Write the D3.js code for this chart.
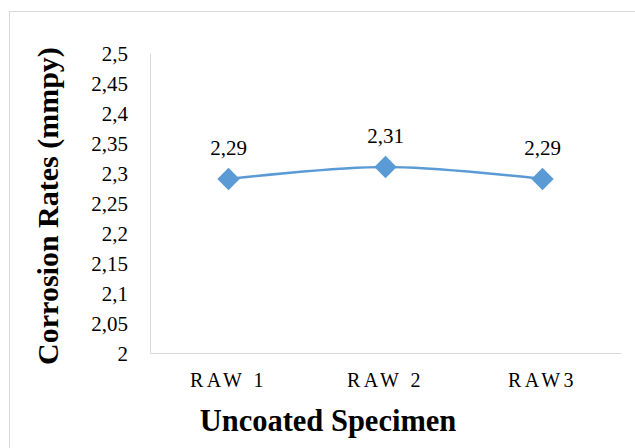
<!DOCTYPE html>
<html>
<head>
<meta charset="utf-8">
<script src="https://cdn.jsdelivr.net/npm/d3@7"></script>
<style>
  body { margin: 0; background: #fff; }
  svg text { font-family: "Liberation Serif", "Times New Roman", serif; fill: #000; }
</style>
</head>
<body>
<div id="chart"></div>
<script>
    const categories = ["RAW 1", "RAW 2", "RAW3"];
    const rates = [2.29, 2.31, 2.29];
    const yTicks = [2, 2.05, 2.1, 2.15, 2.2, 2.25, 2.3, 2.35, 2.4, 2.45, 2.5];

    let width = 635,
        height = 448;
    let plot = {left: 150, right: 621, top: 53, bottom: 353};
    const serif = '"Liberation Serif", "Times New Roman", serif';

    let svg = d3.select("#chart").append("svg")
        .attr("width", width)
        .attr("height", height);

    // outer chart frame (only top and left edges show in the picture)
    svg.append("rect")
        .attr("x", 9.5)
        .attr("y", 11.5)
        .attr("width", 700)
        .attr("height", 500)
        .attr("fill", "none")
        .attr("stroke", "#d9d9d9");

    // Scales
    let x = d3.scaleBand()
        .domain(categories)
        .range([plot.left, plot.right]);
    let y = d3.scaleLinear()
        .domain([2, 2.5])
        .range([plot.bottom, plot.top]);

    const fmt = d => String(d).replace(".", ",");

    // y axis
    let yAxis = svg.append("g")
        .attr("transform", `translate(${plot.left},0)`)
        .call(d3.axisLeft(y).tickValues(yTicks).tickSize(0).tickPadding(22).tickFormat(fmt));
    yAxis.select(".domain").attr("stroke", "#d9d9d9");
    yAxis.selectAll("text")
        .style("font-family", serif)
        .style("font-size", "21px")
        .attr("dy", "0.35em");

    // x axis
    let xAxis = svg.append("g")
        .attr("transform", `translate(0,${plot.bottom})`)
        .call(d3.axisBottom(x).tickSize(0).tickPadding(20));
    xAxis.select(".domain").attr("stroke", "#d9d9d9");
    xAxis.selectAll("text")
        .style("font-family", serif)
        .style("font-size", "20px")
        .style("letter-spacing", "3.5px");

    // axis titles
    svg.append("text")
        .attr("transform", "translate(58,206) rotate(-90)")
        .attr("text-anchor", "middle")
        .style("font-size", "30px")
        .style("font-weight", "bold")
        .text("Corrosion Rates (mmpy)");

    svg.append("text")
        .attr("x", 328)
        .attr("y", 431)
        .attr("text-anchor", "middle")
        .style("font-size", "30.5px")
        .style("font-weight", "bold")
        .text("Uncoated Specimen");

    // smoothed series line
    let line = d3.line()
        .x((d, i) => x(categories[i]) + x.bandwidth() / 2)
        .y(d => y(d))
        .curve(d3.curveCatmullRom);

    svg.append("path")
        .datum(rates)
        .attr("d", line)
        .attr("fill", "none")
        .attr("stroke", "#5b9bd5")
        .attr("stroke-width", 2.5);

    let diamond = d3.symbol().type(d3.symbolSquare).size(250);

    svg.append("g").selectAll("path")
        .data(rates)
        .enter().append("path")
        .attr("d", diamond)
        .attr("transform", (d, i) => `translate(${x(categories[i]) + x.bandwidth() / 2},${y(d)}) rotate(45)`)
        .attr("fill", "#5b9bd5");

    // data labels
    svg.append("g").selectAll("text")
        .data(rates)
        .enter().append("text")
        .attr("x", (d, i) => x(categories[i]) + x.bandwidth() / 2)
        .attr("y", d => y(d) - 24)
        .attr("text-anchor", "middle")
        .style("font-size", "21px")
        .text(d => fmt(d));
</script>
</body>
</html>
